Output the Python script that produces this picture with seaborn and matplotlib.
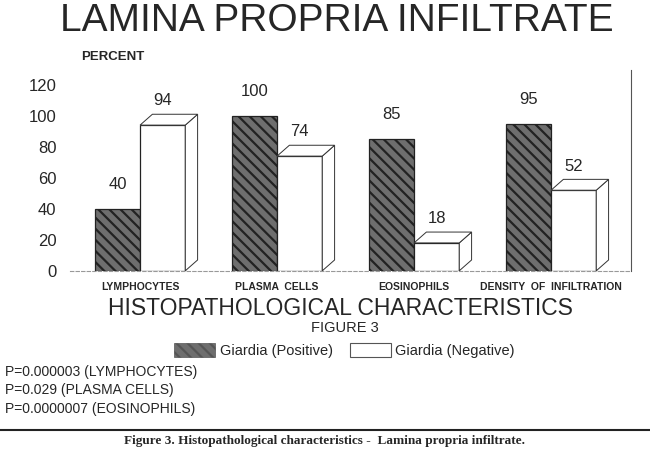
import seaborn as sns
import matplotlib.pyplot as plt
import matplotlib.patches as mpatches
import pandas as pd

categories = ['LYMPHOCYTES', 'PLASMA CELLS', 'EOSINOPHILS', 'DENSITY OF INFILTRATION']
positive = [40, 100, 85, 95]
negative = [94, 74, 18, 52]
groups = ['Giardia (Positive)', 'Giardia (Negative)']
yticks = [0, 20, 40, 60, 80, 100, 120]
pvalues = ['P=0.000003 (LYMPHOCYTES)', 'P=0.029 (PLASMA CELLS)', 'P=0.0000007 (EOSINOPHILS)']

df = pd.DataFrame({
    'cat': categories * 2,
    'val': positive + negative,
    'grp': [groups[0]] * 4 + [groups[1]] * 4,
})

sns.set_style('white')
plt.rcParams['font.family'] = ['Liberation Sans', 'DejaVu Sans']
plt.rcParams['hatch.linewidth'] = 1.6
plt.rcParams['hatch.color'] = '#c8c8c8'

fig = plt.figure(figsize=(6.5, 4.59), dpi=100)
ax = fig.add_axes([0.108, 0.41, 0.862, 0.438])
sns.barplot(data=df, x='cat', y='val', hue='grp', palette=['#6e6e6e', 'white'],
            edgecolor='#222222', linewidth=0.9, width=0.66, ax=ax, legend=False)

# hatch the positive bars, give negative bars a pseudo-3D side/top face
dx, dy = 0.09, 7.0
for i, bar in enumerate(ax.patches[:8]):
    x0, w, h = bar.get_x(), bar.get_width(), bar.get_height()
    if i < 4:
        bar.set_hatch('\\\\\\')
        continue
    side = mpatches.Polygon([(x0 + w, 0), (x0 + w + dx, dy), (x0 + w + dx, h + dy), (x0 + w, h)],
                            closed=True, fc='white', ec='#333333', lw=0.7, zorder=1.5)
    top = mpatches.Polygon([(x0, h), (x0 + dx, h + dy), (x0 + w + dx, h + dy), (x0 + w, h)],
                           closed=True, fc='white', ec='#333333', lw=0.7, zorder=1.5)
    ax.add_patch(side)
    ax.add_patch(top)

for cont in ax.containers:
    ax.bar_label(cont, padding=12, fontsize=12)

ax.set_ylim(0, 129.7)
ax.set_xlim(-0.51, 3.58)
ax.set_yticks(yticks)
ax.tick_params(axis='y', labelsize=12, length=0, pad=10, left=False, right=False,
               labelleft=True, labelright=False)
ax.tick_params(axis='x', labelsize=7.5, length=0, pad=8)
ax.set_xticks(range(4))
ax.set_xticklabels([c.replace(' ', '  ') for c in categories])
for lab in ax.get_xticklabels():
    lab.set_fontweight('bold')
ax.set_xlabel('')
ax.set_ylabel('')
ax.spines['top'].set_visible(False)
ax.spines['left'].set_visible(False)
ax.spines['bottom'].set_color('#999999')
ax.spines['bottom'].set_linestyle((0, (3, 2)))
ax.spines['right'].set_color('#555555')

fig.text(0.518, 0.955, 'LAMINA PROPRIA INFILTRATE', ha='center', va='center', fontsize=28)
fig.text(0.125, 0.876, 'PERCENT', ha='left', va='center', fontsize=9.5, fontweight='bold')
fig.text(0.523, 0.328, 'HISTOPATHOLOGICAL CHARACTERISTICS', ha='center', va='center', fontsize=16.5)
fig.text(0.53, 0.286, 'FIGURE 3', ha='center', va='center', fontsize=10.5)

handles = [mpatches.Patch(fc='#6e6e6e', ec='#555555', hatch='\\\\\\', lw=0.5),
           mpatches.Patch(fc='white', ec='#555555', lw=0.8)]
fig.legend(handles, groups, loc='center', bbox_to_anchor=(0.53, 0.237), ncol=2, frameon=False,
           fontsize=10.5, handlelength=2.8, handleheight=1.2, columnspacing=1.2, handletextpad=0.3)

for k, p in enumerate(pvalues):
    fig.text(0.008, 0.19 - k * 0.04, p, ha='left', va='center', fontsize=10)

fig.add_artist(plt.Line2D([0.0, 1.0], [0.063, 0.063], color='#222222', lw=1.5))
fig.text(0.5, 0.04, 'Figure 3. Histopathological characteristics -  Lamina propria infiltrate.',
         ha='center', va='center', fontsize=9.5, fontweight='bold',
         family=['Liberation Serif', 'DejaVu Serif'])

fig.savefig('out.png', dpi=100)
